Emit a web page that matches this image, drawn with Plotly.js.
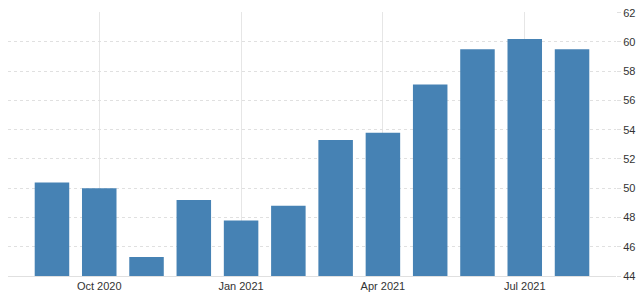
<!DOCTYPE html>
<html>
<head>
<meta charset="utf-8">
<script src="https://cdn.plot.ly/plotly-3.0.1.min.js"></script>
<style>html,body{margin:0;padding:0;background:#fff;}#chart{width:640px;height:298px;}</style>
</head>
<body>
<div id="chart"></div>
<script>
const months = ["Sep 2020","Oct 2020","Nov 2020","Dec 2020","Jan 2021","Feb 2021","Mar 2021","Apr 2021","May 2021","Jun 2021","Jul 2021","Aug 2021"];
const values = [50.4, 50.0, 45.3, 49.2, 47.8, 48.8, 53.3, 53.8, 57.1, 59.5, 60.2, 59.5];
const tickLabels = ["Oct 2020","Jan 2021","Apr 2021","Jul 2021"];
const tickIdx = tickLabels.map(t => months.indexOf(t));
const xs = months.map((m, i) => i);

Plotly.newPlot('chart', [{
  type: 'bar',
  x: xs,
  y: values,
  width: 0.73,
  marker: {color: '#4682b4', line: {width: 0}},
  hoverinfo: 'skip'
}], {
  width: 640, height: 298,
  margin: {l: 8, r: 24, t: 12, b: 22},
  paper_bgcolor: '#fff', plot_bgcolor: '#fff',
  showlegend: false,
  font: {family: 'Liberation Sans, Arial, sans-serif', size: 11, color: '#333'},
  xaxis: {
    range: [-0.93, 11.93],
    tickvals: tickIdx, ticktext: tickLabels,
    showgrid: true, gridcolor: '#e6e6e6', gridwidth: 1,
    zeroline: false, showline: true, linecolor: '#e0e0e0', linewidth: 1,
    ticks: '', tickfont: {size: 11, color: '#333'}
  },
  yaxis: {
    side: 'right',
    range: [44, 62.05],
    tickvals: [44,46,48,50,52,54,56,58,60,62],
    showgrid: true, gridcolor: '#e0e0e0', griddash: 'dot', gridwidth: 1,
    zeroline: false, showline: false,
    ticks: 'outside', ticklen: 4, tickcolor: '#e0e0e0',
    tickfont: {size: 11, color: '#333'}
  },
  bargap: 0.27
}, {staticPlot: true, displayModeBar: false});
</script>
</body>
</html>
